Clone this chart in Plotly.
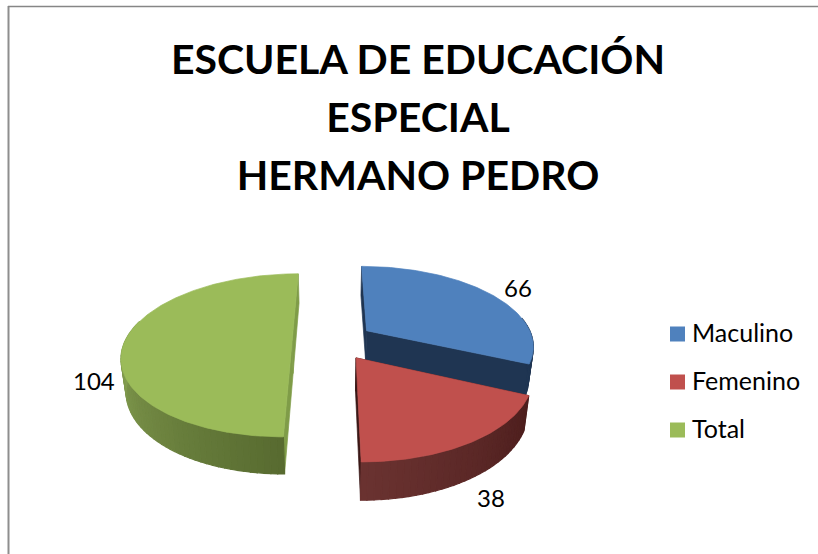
import math
import plotly.graph_objects as go

categories = ["Maculino", "Femenino", "Total"]
values = [66, 38, 104]
top_colors = ["#4F81BD", "#C0504D", "#9BBB59"]
wall_start = ["#1F3552", "#4D1E1D", "#586B30"]
wall_end = ["#1F3552", "#6B3331", "#8EAA58"]
cut_colors = ["#1F3552", "#3A1716", "#7F9C48"]
title_lines = ["ESCUELA DE EDUCACIÓN", "ESPECIAL", "HERMANO PEDRO"]
label_px = [(518, 287), (491, 497), (94, 380)]
legend_px = [(677.5, 334), (677.5, 382), (677.5, 430)]
legend_text_x = 692

CX, CY, A, B, K, H, M, EXPLODE = 333, 341, 167, 79, 0.176, 32.5, 0.025, 0.245


def project(u, v, low=False):
    w = 1 + K * v
    s = 1 + M if low else 1
    return CX + A * u / (w * s), CY - B * v / (w * s) + (H / w if low else 0)


def rim(phi, off):
    r = math.radians(phi)
    return off[0] + math.sin(r), off[1] + math.cos(r)


def hex_mix(c1, c2, t):
    a = [int(c1[i:i + 2], 16) for i in (1, 3, 5)]
    b = [int(c2[i:i + 2], 16) for i in (1, 3, 5)]
    return "#%02X%02X%02X" % tuple(round(p + (q - p) * t) for p, q in zip(a, b))


def poly(fig, pts, color, lw=0.7):
    xs, ys = zip(*pts)
    fig.add_trace(go.Scatter(
        x=list(xs) + [xs[0]], y=list(ys) + [ys[0]], mode="lines", fill="toself",
        fillcolor=color, line=dict(color=color, width=lw),
        showlegend=False, hoverinfo="skip"))


fig = go.Figure()
total = sum(values)
spans = []
start = 0.0
for val in values:
    end = start + 360 * val / total
    spans.append((start, end))
    start = end

for i in range(len(values)):
    a0, a1 = spans[i]
    mid = math.radians((a0 + a1) / 2)
    off = (EXPLODE * math.sin(mid), EXPLODE * math.cos(mid))

    # cut faces
    for phi in (a0, a1):
        p = rim(phi, off)
        poly(fig, [project(*off), project(*p), project(*p, True), project(*off, True)], cut_colors[i])

    # outer wall, in narrow strips so that the shading runs along the rim
    lo, hi = max(a0, 80), min(a1, 285)
    phi = lo
    while phi < hi:
        nxt = min(phi + 2, hi)
        p, q = rim(phi, off), rim(nxt, off)
        t = (phi - lo) / max(hi - lo, 1)
        poly(fig, [project(*p), project(*q), project(*q, True), project(*p, True)],
             hex_mix(wall_start[i], wall_end[i], t), lw=1.2)
        phi = nxt

    # top face
    pts = [project(*off)]
    n = int(a1 - a0) + 1
    for k in range(n + 1):
        pts.append(project(*rim(a0 + (a1 - a0) * k / n, off)))
    poly(fig, pts, top_colors[i])

# key: one square and one real text per category
for name, color, (px, py) in zip(categories, top_colors, legend_px):
    fig.add_trace(go.Scatter(
        x=[px], y=[py], mode="markers", name=name, showlegend=False, hoverinfo="name",
        marker=dict(symbol="square", size=15, color=color)))
    fig.add_trace(go.Scatter(
        x=[legend_text_x], y=[py + 2], mode="text", text=[name], name=name,
        textposition="middle right", showlegend=False, hoverinfo="skip",
        textfont=dict(family="Lato", size=25, color="#000000")))

annotations = [
    dict(x=px, y=py, text=str(val), showarrow=False, xref="x", yref="y",
         font=dict(family="Lato", size=24, color="#000000"))
    for val, (px, py) in zip(values, label_px)
]

title_text = "<br>".join(f'<span style="font-size:41px">{t}</span>' for t in title_lines)

fig.update_layout(
    width=818, height=554,
    margin=dict(l=0, r=0, t=0, b=0),
    paper_bgcolor="white", plot_bgcolor="white",
    showlegend=False,
    title=dict(text=title_text, x=418 / 818, xanchor="center", y=1 - 74 / 554, yanchor="top",
               font=dict(family="Lato", size=44.6, color="#000000", weight="bold")),
    xaxis=dict(range=[0, 818], visible=False, fixedrange=True),
    yaxis=dict(range=[554, 0], visible=False, fixedrange=True),
    annotations=annotations,
    shapes=[
        dict(type="line", xref="x", yref="y", x0=8.5, x1=8.5, y0=6, y1=554,
             line=dict(color="#8E8E8E", width=2)),
        dict(type="line", xref="x", yref="y", x0=8, x1=818, y0=6.5, y1=6.5,
             line=dict(color="#868686", width=1.5)),
    ],
)

fig.write_html("out.html", config={"displayModeBar": False},
               post_script="document.body.style.margin='0';document.body.style.overflow='hidden';")
